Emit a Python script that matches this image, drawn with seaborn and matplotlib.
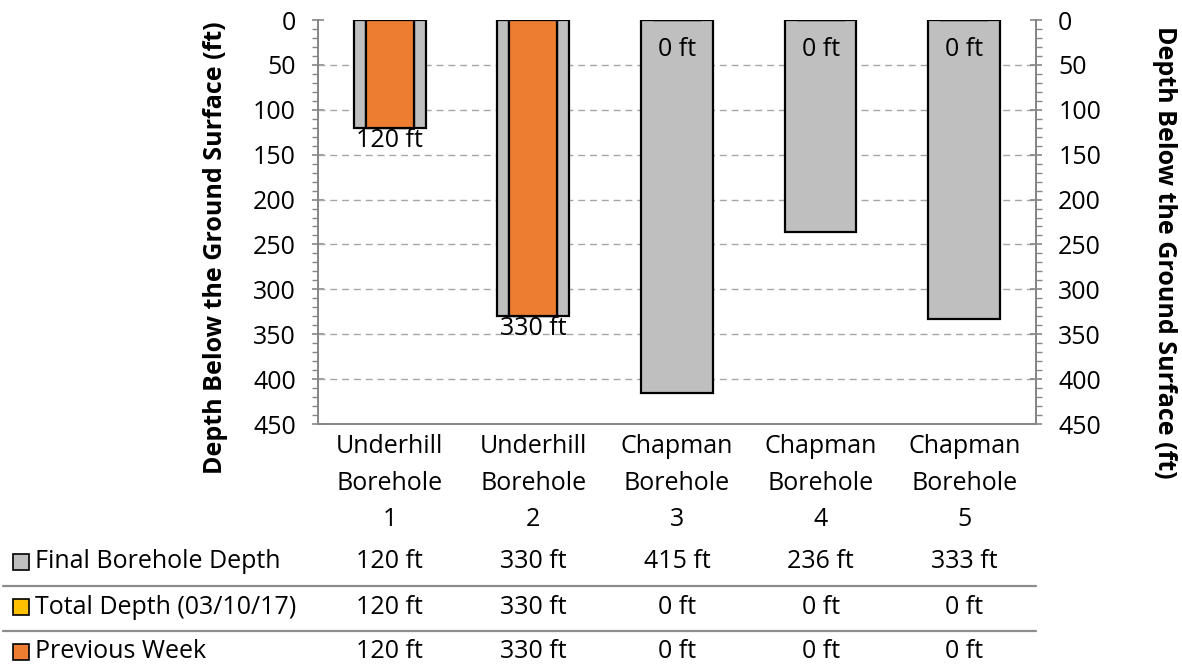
import matplotlib
matplotlib.use("Agg")
import matplotlib.pyplot as plt
import matplotlib.transforms as mtransforms
from matplotlib.patches import Rectangle
from matplotlib.lines import Line2D
from matplotlib.ticker import FixedLocator, MultipleLocator
import seaborn as sns
import pandas as pd

# ---------------- data ----------------
categories = ["Underhill\nBorehole\n1", "Underhill\nBorehole\n2",
              "Chapman\nBorehole\n3", "Chapman\nBorehole\n4", "Chapman\nBorehole\n5"]
final_depth = [120, 330, 415, 236, 333]
total_depth = [120, 330, 0, 0, 0]
previous_week = [120, 330, 0, 0, 0]
series_names = ["Final Borehole Depth", "Total Depth (03/10/17)", "Previous Week"]
y_ticks = [0, 50, 100, 150, 200, 250, 300, 350, 400, 450]
axis_title = "Depth Below the Ground Surface (ft)"

GRAY = "#BFBFBF"
YELLOW = "#FFC000"
ORANGE = "#ED7D31"
AXIS_GRAY = "#868686"

sns.set_theme(style="white")
plt.rcParams["font.family"] = ["Open Sans", "DejaVu Sans"]
plt.rcParams["text.color"] = "black"

W, H = 1182, 666
fig = plt.figure(figsize=(W / 100, H / 100), dpi=100)
ax = fig.add_axes([318 / W, 1 - 424 / H, (1036 - 318) / W, (424 - 20) / H])

df = pd.DataFrame({"cat": categories, "final": final_depth,
                   "total": total_depth, "prev": previous_week})

sns.barplot(data=df, x="cat", y="final", color=GRAY, saturation=1, width=0.5,
            edgecolor="black", linewidth=1.6, ax=ax, zorder=3)
sns.barplot(data=df, x="cat", y="total", color=YELLOW, saturation=1, width=0.335,
            edgecolor="black", linewidth=1.6, ax=ax, zorder=4)
sns.barplot(data=df, x="cat", y="prev", color=ORANGE, saturation=1, width=0.335,
            edgecolor="black", linewidth=1.6, ax=ax, zorder=5)

ax.set_xlim(-0.5, len(categories) - 0.5)
ax.set_ylim(y_ticks[-1], y_ticks[0])
ax.set_xlabel("")
ax.set_ylabel("")
ax.set_xticks([])

ax.yaxis.set_major_locator(FixedLocator(y_ticks))
ax.yaxis.set_minor_locator(MultipleLocator(10))
for yv in y_ticks[1:-1]:
    ax.axhline(yv, color="#A6A6A6", linewidth=1.0, linestyle=(0, (5, 3.5)), zorder=1)

TICK_FS = 18
ax.spines["top"].set_visible(False)
for side in ["left", "right", "bottom"]:
    ax.spines[side].set_color(AXIS_GRAY)
    ax.spines[side].set_linewidth(1.4)

ax.tick_params(axis="y", which="major", direction="inout", length=8, width=1.2,
               color=AXIS_GRAY, labelsize=TICK_FS, pad=12, left=True, labelcolor="black")
ax.tick_params(axis="y", which="minor", direction="out", length=4.5, width=1.0,
               color=AXIS_GRAY, left=True)

ax2 = ax.twinx()
ax2.set_ylim(ax.get_ylim())
ax2.yaxis.set_major_locator(FixedLocator(y_ticks))
ax2.yaxis.set_minor_locator(MultipleLocator(10))
for side in ["top", "left", "bottom"]:
    ax2.spines[side].set_visible(False)
ax2.spines["right"].set_color(AXIS_GRAY)
ax2.spines["right"].set_linewidth(1.4)
ax2.tick_params(axis="y", which="major", direction="inout", length=8, width=1.2,
                color=AXIS_GRAY, labelsize=TICK_FS, pad=12, right=True, labelcolor="black")
ax2.tick_params(axis="y", which="minor", direction="out", length=4.5, width=1.0,
                color=AXIS_GRAY, right=True)
ax2.grid(False)

# data labels
for i, v in enumerate(total_depth):
    dy = 17 if v == 0 else 0
    ax.annotate(f"{v} ft", (i, v), xytext=(0, -dy * 0.72), textcoords="offset points",
                ha="center", va="top", fontsize=TICK_FS, zorder=6)

# axis titles
fig.text(215 / W, 1 - 248 / H, axis_title, rotation=90, ha="center", va="center",
         fontsize=18, fontweight="bold")
fig.text(1165 / W, 1 - 252 / H, axis_title, rotation=270, ha="center", va="center",
         fontsize=18, fontweight="bold")

# data table under the axis
tr = mtransforms.blended_transform_factory(ax.transData, fig.transFigure)
line_y = [446.7, 483, 519]
for i, cat in enumerate(categories):
    for j, part in enumerate(cat.split("\n")):
        ax.text(i, 1 - line_y[j] / H, part, transform=tr, ha="center", va="center",
                fontsize=TICK_FS, clip_on=False)

row_y = [562, 607, 652]
row_vals = [final_depth, total_depth, previous_week]
row_colors = [GRAY, YELLOW, ORANGE]
for r in range(3):
    for i, v in enumerate(row_vals[r]):
        ax.text(i, 1 - row_y[r] / H, f"{v} ft", transform=tr, ha="center", va="center",
                fontsize=TICK_FS, clip_on=False)
    fig.text(35 / W, 1 - row_y[r] / H, series_names[r], ha="left", va="center",
             fontsize=TICK_FS)
    fig.add_artist(Rectangle((13 / W, 1 - (row_y[r] + 8) / H), 16 / W, 16 / H,
                             transform=fig.transFigure, facecolor=row_colors[r],
                             edgecolor="black", linewidth=1.2))

for ys in [586, 631]:
    fig.add_artist(Line2D([3 / W, 1036 / W], [1 - ys / H, 1 - ys / H],
                          transform=fig.transFigure, color="#8C8C8C", linewidth=1.6))

fig.savefig("out.png", dpi=100)
